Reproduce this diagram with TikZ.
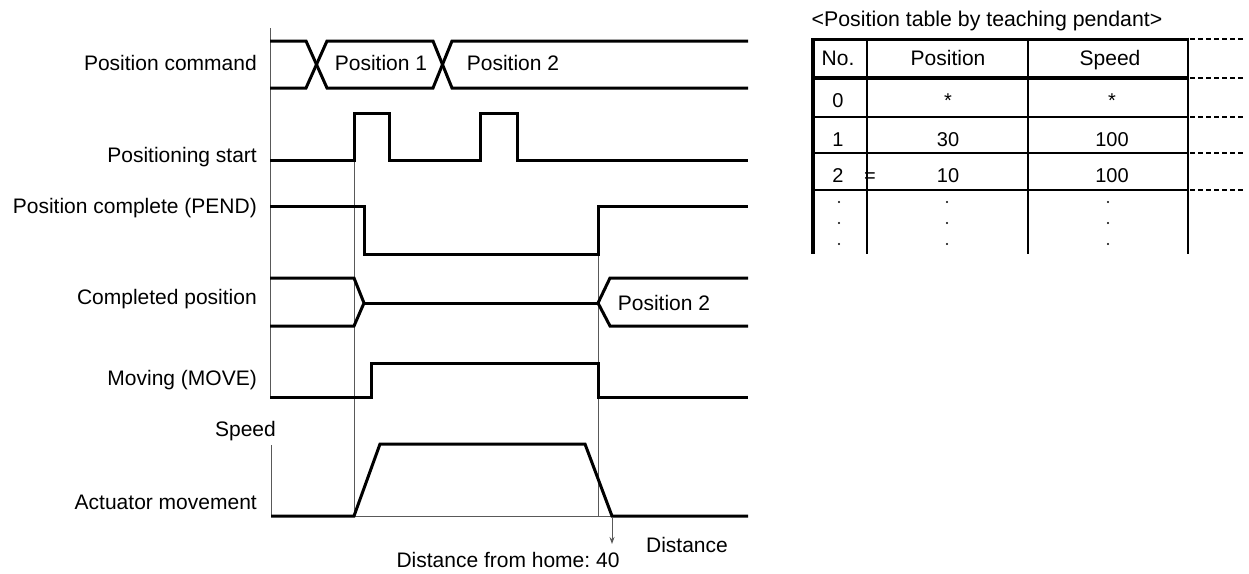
\documentclass[tikz,border=0pt]{standalone}
\usepackage{fontspec}
\setmainfont{Liberation Sans}
\usetikzlibrary{arrows.meta}
\frenchspacing
\begin{document}
\begin{tikzpicture}[x=1pt,y=-1pt,
 sig/.style={line width=3pt, line join=miter, line cap=butt},
 guide/.style={line width=1pt, black!65},
 lbl/.style={font=\fontsize{21}{25}\selectfont, inner sep=0pt, anchor=base east},
 txt/.style={font=\fontsize{21}{25}\selectfont, inner sep=0pt, anchor=base},
 tb/.style={font=\fontsize{20}{24}\selectfont, inner sep=0pt, anchor=base},
 tline/.style={line width=2pt},
 dsh/.style={line width=2pt, dash pattern=on 5pt off 3pt},
 dotc/.style={fill=black, circle, inner sep=0pt, minimum size=2.2pt}]
\useasboundingbox (0,0) rectangle (1249,573);

% ---- signal labels
\node[lbl] (l1) at (257,70.5) {Position command};
\node[lbl] (l2) at (257,162.5) {Positioning start};
\node[lbl] (l3) at (257,213.5) {Position complete (PEND)};
\node[lbl] (l4) at (257,304.5) {Completed position};
\node[lbl] (l5) at (257,385.5) {Moving (MOVE)};
\node[lbl] (l6) at (276,436.5) {Speed};
\node[lbl] (l7) at (257,509.5) {Actuator movement};

% ---- guide lines
\draw[guide] (270,28) -- (270,397);
\draw[guide] (354,160) -- (354,516);
\draw[guide] (598,206) -- (598,516);
\draw[guide] (271.5,445) -- (271.5,516) -- (748,516);

% ---- Position command
\draw[sig] (270,41) -- (306,41) -- (327,88) -- (433,88) -- (452,41) -- (748,41);
\draw[sig] (270,88) -- (306,88) -- (327,41) -- (433,41) -- (452,88) -- (748,88);
\node[txt] (p1) at (381,70.5) {Position 1};
\node[txt] (p2) at (513,70.5) {Position 2};

% ---- Positioning start
\draw[sig] (270,160) -- (354,160) -- (354,113) -- (389,113) -- (389,160) -- (480,160)
  -- (480,113) -- (517,113) -- (517,160) -- (748,160);

% ---- PEND
\draw[sig] (270,206) -- (364,206) -- (364,254) -- (598,254) -- (598,206) -- (748,206);

% ---- Completed position
\draw[sig] (270,278) -- (354,278) -- (364,303) -- (354,326) -- (270,326);
\draw[sig] (364,303) -- (598,303);
\draw[sig] (748,278) -- (610,278) -- (598,303) -- (610,326) -- (748,326);
\node[txt] (p3) at (664,310.5) {Position 2};

% ---- MOVE
\draw[sig] (270,397) -- (371,397) -- (371,363) -- (598,363) -- (598,397) -- (748,397);

% ---- Actuator movement
\draw[sig] (271,516) -- (354,516) -- (380,444) -- (585,444) -- (612,516) -- (748,516);
\coordinate (d0) at (612,517);
\coordinate (d1) at (612,544);
\draw[guide, -{Stealth[length=7pt,width=5pt]}] (d0) -- (d1);
\node[txt] (dh) at (508,567.5) {Distance from home: 40};
\node[txt] (dd) at (687,552.5) {Distance};

% ---- Table
\node[txt, font=\fontsize{21.3}{25}\selectfont] (tt) at (987,26) {<Position table by teaching pendant>};
\draw[tline] (867,39) -- (867,254);
\draw[tline] (1028,39) -- (1028,254);
\draw[tline] (813,117) -- (1188,117);
\draw[tline] (813,153) -- (1188,153);
\draw[tline] (813,190) -- (1188,190);
\draw[line width=3.5pt] (813,39) -- (813,254);
\draw[line width=3pt] (811.25,39) -- (1189,39);
\draw[line width=3.5pt] (811.25,78) -- (1189,78);
\draw[line width=2.5pt] (1188,37.5) -- (1188,254);
\foreach \yy in {39,78,117,153,190} \draw[dsh] (1190,\yy) -- (1243,\yy);

\node[txt] (h1) at (838,65) {No.};
\node[txt] (h2) at (948,65) {Position};
\node[txt] (h3) at (1110,65) {Speed};

\node[tb] (a0) at (838,107) {0};
\node[tb] (b0) at (948,107) {*};
\node[tb] (c0) at (1112,107) {*};
\node[tb] (a1) at (838,146) {1};
\node[tb] (b1) at (948,146) {30};
\node[tb] (c1) at (1112,146) {100};
\node[tb] (a2) at (838,182) {2};
\node[tb] (eq) at (870,182) {=};
\node[tb] (b2) at (948,182) {10};
\node[tb] (c2) at (1112,182) {100};
\foreach \xx in {839,947,1108} \foreach \yy in {202,223,244}
  \node[dotc] at (\xx,\yy) {};
\end{tikzpicture}
\end{document}
